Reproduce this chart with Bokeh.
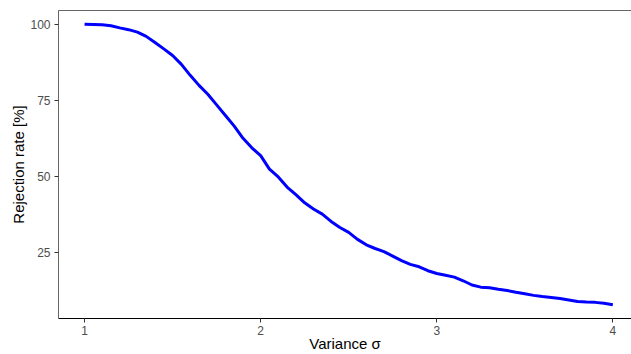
from bokeh.plotting import figure
from bokeh.models import LinearAxis, FixedTicker, Range1d
from bokeh.embed import file_html
from bokeh.resources import INLINE

# Data
variance = [1.00, 1.05, 1.10, 1.15, 1.20, 1.25, 1.30, 1.35, 1.40, 1.45,
            1.50, 1.55, 1.60, 1.65, 1.70, 1.75, 1.80, 1.85, 1.90, 1.95,
            2.00, 2.05, 2.10, 2.15, 2.20, 2.25, 2.30, 2.35, 2.40, 2.45,
            2.50, 2.55, 2.60, 2.65, 2.70, 2.75, 2.80, 2.85, 2.90, 2.95,
            3.00, 3.05, 3.10, 3.15, 3.20, 3.25, 3.30, 3.35, 3.40, 3.45,
            3.50, 3.55, 3.60, 3.65, 3.70, 3.75, 3.80, 3.85, 3.90, 3.95,
            4.00]
rejection = [100.0, 99.9, 99.8, 99.5, 98.8, 98.2, 97.4, 96.0, 94.0, 91.9,
             89.7, 86.8, 83.2, 79.9, 77.0, 73.5, 70.0, 66.5, 62.5, 59.4,
             56.8, 52.4, 49.8, 46.5, 44.0, 41.3, 39.3, 37.6, 35.2, 33.2,
             31.6, 29.3, 27.5, 26.3, 25.3, 23.8, 22.3, 21.1, 20.3, 19.0,
             18.1, 17.5, 16.9, 15.7, 14.3, 13.6, 13.4, 12.9, 12.5, 11.9,
             11.4, 10.9, 10.5, 10.2, 9.9, 9.4, 8.9, 8.7, 8.6, 8.3,
             7.8]
x_ticks = [1, 2, 3, 4]
y_ticks = [25, 50, 75, 100]
x_title = "Variance σ"
y_title = "Rejection rate [%]"

FONT = "Liberation Sans"

p = figure(width=631, height=354, output_backend="svg", toolbar_location=None,
           x_range=Range1d(0.852, 4.106), y_range=Range1d(3.3, 104.5),
           min_border_left=58, min_border_right=0, min_border_top=10,
           min_border_bottom=35, outline_line_color=None,
           background_fill_color="white", border_fill_color="white")
p.grid.visible = False

p.line(variance, rejection, line_color="#0000FF", line_width=3)

for ax, ticks in ((p.xaxis[0], x_ticks), (p.yaxis[0], y_ticks)):
    ax.ticker = FixedTicker(ticks=ticks)
    ax.minor_tick_line_color = None
    ax.major_tick_in = 0
    ax.major_tick_out = 4
    ax.major_tick_line_color = "#333333"
    ax.major_label_text_font = FONT
    ax.major_label_text_font_size = "12px"
    ax.major_label_text_color = "#4D4D4D"
    ax.axis_label_text_font = FONT
    ax.axis_label_text_font_size = "15px"
    ax.axis_label_text_font_style = "normal"
    ax.axis_label_text_color = "black"

p.xaxis.axis_label = x_title
p.yaxis.axis_label = y_title
p.xaxis.axis_line_color = "black"
p.yaxis.axis_line_color = "#666666"
p.xaxis.major_label_standoff = 3
p.xaxis.axis_label_standoff = -3
p.yaxis.major_label_standoff = 4
p.yaxis.axis_label_standoff = 0

top = LinearAxis(ticker=FixedTicker(ticks=[]), axis_line_color="#666666",
                 major_tick_line_color=None, minor_tick_line_color=None,
                 major_label_text_font_size="0px")
p.add_layout(top, "above")

open("out.html", "w").write(file_html(p, INLINE))
